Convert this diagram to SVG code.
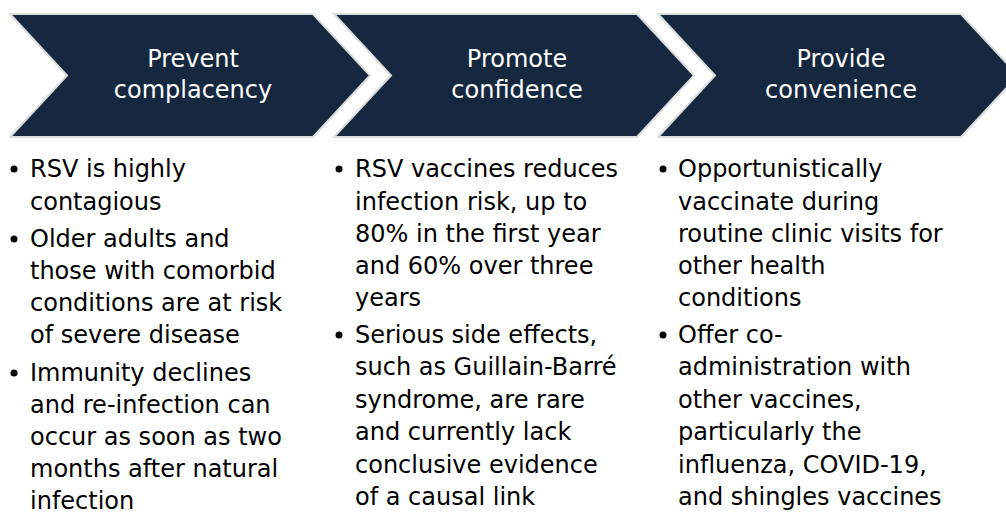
<svg xmlns="http://www.w3.org/2000/svg" width="1006" height="514" viewBox="0 0 1006 514">
  <style>
    .chev { fill: #15283f; stroke: #dcdcdc; stroke-width: 2; stroke-linejoin: miter; }
    .head { font-family: "DejaVu Sans", "Liberation Sans", sans-serif; font-size: 24px; fill: #ffffff; text-anchor: middle; }
    .body { font-family: "DejaVu Sans", "Liberation Sans", sans-serif; font-size: 24px; fill: #000000; }
    .dot { fill: #000000; }
  </style>
  <defs>
    <!-- one chevron step, origin at its top-left corner -->
    <polygon id="chevron" points="0,0 303,0 360,61.5 303,123 0,123 57,61.5"/>
  </defs>
  <rect width="1006" height="514" fill="#ffffff"/>

  <g id="connectors"/>

  <!-- Step 1 -->
  <g id="step-prevent">
    <use href="#chevron" class="chev" x="10" y="14"/>
    <text class="head" x="193" y="67">Prevent</text>
    <text class="head" x="193" y="98">complacency</text>
  </g>

  <!-- Step 2 -->
  <g id="step-promote">
    <use href="#chevron" class="chev" x="334" y="14"/>
    <text class="head" x="517" y="67">Promote</text>
    <text class="head" x="517" y="98">confidence</text>
  </g>

  <!-- Step 3 -->
  <g id="step-provide">
    <use href="#chevron" class="chev" x="658" y="14"/>
    <text class="head" x="841" y="67">Provide</text>
    <text class="head" x="841" y="98">convenience</text>
  </g>

  <!-- Column 1 bullets -->
  <g id="list-prevent">
    <circle class="dot" cx="14" cy="169" r="3.5"/>
    <text class="body" x="30" y="177">RSV is highly</text>
    <text class="body" x="30" y="210">contagious</text>
    <circle class="dot" cx="14" cy="239" r="3.5"/>
    <text class="body" x="30" y="247">Older adults and</text>
    <text class="body" x="30" y="279">those with comorbid</text>
    <text class="body" x="30" y="311">conditions are at risk</text>
    <text class="body" x="30" y="343">of severe disease</text>
    <circle class="dot" cx="14" cy="373" r="3.5"/>
    <text class="body" x="30" y="381">Immunity declines</text>
    <text class="body" x="30" y="413">and re-infection can</text>
    <text class="body" x="30" y="445">occur as soon as two</text>
    <text class="body" x="30" y="477">months after natural</text>
    <text class="body" x="30" y="509">infection</text>
  </g>

  <!-- Column 2 bullets -->
  <g id="list-promote">
    <circle class="dot" cx="339" cy="169" r="3.5"/>
    <text class="body" x="355" y="177">RSV vaccines reduces</text>
    <text class="body" x="355" y="210">infection risk, up to</text>
    <text class="body" x="355" y="242">80% in the first year</text>
    <text class="body" x="355" y="274">and 60% over three</text>
    <text class="body" x="355" y="306">years</text>
    <circle class="dot" cx="339" cy="335" r="3.5"/>
    <text class="body" x="355" y="343">Serious side effects,</text>
    <text class="body" x="355" y="375">such as Guillain-Barré</text>
    <text class="body" x="355" y="408">syndrome, are rare</text>
    <text class="body" x="355" y="440">and currently lack</text>
    <text class="body" x="355" y="473">conclusive evidence</text>
    <text class="body" x="355" y="505">of a causal link</text>
  </g>

  <!-- Column 3 bullets -->
  <g id="list-provide">
    <circle class="dot" cx="663" cy="169" r="3.5"/>
    <text class="body" x="678" y="177">Opportunistically</text>
    <text class="body" x="678" y="210">vaccinate during</text>
    <text class="body" x="678" y="242">routine clinic visits for</text>
    <text class="body" x="678" y="274">other health</text>
    <text class="body" x="678" y="306">conditions</text>
    <circle class="dot" cx="663" cy="335" r="3.5"/>
    <text class="body" x="678" y="343">Offer co-</text>
    <text class="body" x="678" y="375">administration with</text>
    <text class="body" x="678" y="408">other vaccines,</text>
    <text class="body" x="678" y="440">particularly the</text>
    <text class="body" x="678" y="473">influenza, COVID-19,</text>
    <text class="body" x="678" y="505">and shingles vaccines</text>
  </g>
</svg>
